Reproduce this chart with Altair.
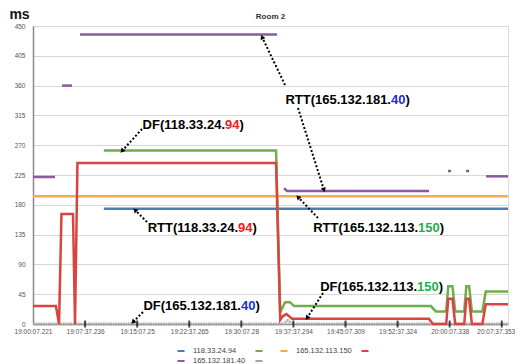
import json
import math
import altair as alt
import pandas as pd

# ---------------- data ----------------
TITLE = "Room 2"
TICK_LABELS = ["19:00:07.221", "19:07:37.236", "19:15:07.25", "19:22:37.265", "19:30:07.28",
               "19:37:37.294", "19:45:07.309", "19:52:37.324", "20:00:07.338", "20:07:37.353"]
TICK_MIN = [0, 7.5, 15, 22.5, 30, 37.5, 45, 52.5, 60, 67.5]
X_MAX = 68.4
Y_TICKS = [0, 45, 90, 135, 180, 225, 270, 315, 360, 405, 450]

SERIES = ["118.33.24.94", "DF 118.33.24.94", "165.132.113.150",
          "DF 165.132.113.150", "165.132.181.40", "DF 165.132.181.40"]
COLORS = ["#4a7ebb", "#6fae4c", "#f5ab4b", "#d9443f", "#8b5aa0", "#a6a6a6"]

# RTT 118.33.24.94 (blue)
blue_t = [10.2, 68.4]
blue_v = [174, 174]
# DF 118.33.24.94 (green)
green_t = [10.2, 35.0, 35.6, 36.3, 37.0, 37.6, 57.3, 58.0, 59.5, 59.8, 60.4, 60.8,
           62.1, 62.4, 62.8, 63.2, 64.7, 65.2, 68.4]
green_v = [262, 262, 18, 33, 33, 27, 27, 19, 19, 57, 57, 19,
           19, 57, 57, 19, 19, 49, 49]
# RTT 165.132.113.150 (orange)
orange_t = [0, 68.4]
orange_v = [193, 193]
# DF 165.132.113.150 (red)
red_t = [0, 3.3, 3.75, 4.1, 5.76, 6.05, 6.4, 35.0, 35.6, 36.0, 36.5, 37.3, 57.0, 57.6,
         59.5, 59.8, 60.4, 60.8, 62.1, 62.4, 62.8, 63.2, 64.7, 65.2, 68.4]
red_v = [27, 27, 0, 166, 166, 0, 243, 243, 6, 12, 15, 8, 8, 0,
         0, 38, 38, 0, 0, 38, 38, 0, 0, 30, 30]
# RTT 165.132.181.40 (purple) - separate pieces
purple_segs = [
    ([0, 3.17], [222, 222]),
    ([4.18, 5.62], [360, 360]),
    ([6.77, 35.14], [437, 437]),
    ([36.15, 36.58, 57.03], [205, 201, 201]),
    ([59.76, 60.2], [231, 231]),
    ([62.36, 62.8], [231, 231]),
    ([65.24, 68.4], [223, 223]),
]
# DF 165.132.181.40 (gray)
gray_t = [0, 36.0, 36.7, 37.4, 68.4]
gray_v = [0, 0, 5, 0, 0]

# annotations: prefix, coloured part, colour, x anchor (min), y (ms)
ANN_PREFIX = ["DF(118.33.24.", "RTT(118.33.24.", "RTT(165.132.181.",
              "RTT(165.132.113.", "DF(165.132.113.", "DF(165.132.181."]
ANN_COLORED = ["94", "94", "40", "150", "150", "40"]
ANN_COLOR = ["#ee2020", "#ee2020", "#2030e0", "#20b050", "#20b050", "#2030e0"]
ANN_X = [27.65, 29.52, 51.55, 55.44, 55.30, 29.95]
ANN_Y = [300.5, 145, 338, 145, 56, 27]

# arrows: from (x1,y1) to (x2,y2), head at end
ARR_X1 = [15.70, 16.42, 36.29, 38.16, 41.04, 41.76, 15.84]
ARR_Y1 = [294.5, 154.0, 360.9, 326.2, 160.0, 46.8, 18.1]
ARR_X2 = [12.82, 14.69, 32.98, 41.90, 38.16, 39.46, 14.40]
ARR_Y2 = [261.3, 172.1, 433.4, 202.4, 191.7, 9.1, 3.0]

W, H = 475, 298
PX_X = W / X_MAX
PX_Y = H / 450

# ---------------- frames ----------------
rows = []
def add(series, seg, ts, vs):
    for t, v in zip(ts, vs):
        rows.append({"series": series, "seg": seg, "t": t, "v": v})

add(SERIES[0], "b", blue_t, blue_v)
add(SERIES[1], "g", green_t, green_v)
add(SERIES[2], "o", orange_t, orange_v)
add(SERIES[3], "r", red_t, red_v)
for i, (ts, vs) in enumerate(purple_segs):
    add(SERIES[4], f"p{i}", ts, vs)
lines_df = pd.DataFrame(rows)
gray_df = pd.DataFrame({"series": SERIES[5], "seg": "gr", "t": gray_t, "v": gray_v})

ann_df = pd.DataFrame({"prefix": ANN_PREFIX, "col": ANN_COLORED, "c": ANN_COLOR,
                       "t": ANN_X, "v": ANN_Y,
                       "n": [len(s) for s in ANN_COLORED]})
angles = []
for x1, y1, x2, y2 in zip(ARR_X1, ARR_Y1, ARR_X2, ARR_Y2):
    dx = (x2 - x1) * PX_X
    dy = -(y2 - y1) * PX_Y
    angles.append(math.degrees(math.atan2(dx, -dy)) % 360)
arr_df = pd.DataFrame({"t": ARR_X1, "v": ARR_Y1, "t2": ARR_X2, "v2": ARR_Y2, "ang": angles})
ticks_df = pd.DataFrame({"t": TICK_MIN[1:], "v": [0] * (len(TICK_MIN) - 1)})
title_df = pd.DataFrame({"title": [TITLE]})

FONT = "Liberation Sans"
label_expr = json.dumps(TICK_LABELS) + "[round(datum.value / 7.5)]"

x_axis = alt.Axis(values=TICK_MIN, labelExpr=label_expr, title=None, grid=False,
                  ticks=False, labelFontSize=6.5, labelColor="#555", labelFont=FONT,
                  labelPadding=4, domainColor="#8a8a8a", domainWidth=1.5,
                  labelOverlap=False, labelFlush=False,
                  labelOffset=alt.expr("datum.value > 67 ? -6 : 0"))
y_axis = alt.Axis(values=Y_TICKS, tickCount=11, title="ms", titleAngle=0, titleX=-14,
                  titleY=-8, titleAlign="center", titleBaseline="alphabetic",
                  titleFontSize=14, titleFontWeight="bold", titleColor="#111",
                  titleFont=FONT, grid=True, gridColor="#d8d8d8", gridWidth=1,
                  ticks=False, labelFontSize=6.5, labelColor="#555", labelFont=FONT,
                  labelOverlap=False, labelFlush=False, labelPadding=8,
                  domainColor="#8a8a8a", domainWidth=1.5)
x_scale = alt.Scale(domain=[0, X_MAX], nice=False, zero=False)
y_scale = alt.Scale(domain=[0, 450], nice=False)


def X(field="t"):
    return alt.X(f"{field}:Q", scale=x_scale, axis=x_axis)


def Y(field="v"):
    return alt.Y(f"{field}:Q", scale=y_scale, axis=y_axis)


color_scale = alt.Scale(domain=SERIES, range=COLORS)
legend = alt.Legend(title=None, orient="none", legendX=143, legendY=320, columns=4,
                    direction="horizontal", symbolType="stroke", symbolSize=50,
                    symbolStrokeWidth=2, labelFontSize=7.5, labelColor="#444",
                    labelFont=FONT, labelOffset=7, columnPadding=5, rowPadding=1,
                    padding=0,
                    labelExpr="indexof(datum.label, 'DF') == 0 ? '' : datum.label")

gray = alt.Chart(gray_df).mark_line(strokeWidth=3, strokeDash=[1.5, 1]).encode(
    x=X(), y=Y(),
    color=alt.Color("series:N", scale=color_scale, legend=legend),
    detail="seg:N")

lines = alt.Chart(lines_df).mark_line(strokeWidth=2.5).encode(
    x=X(), y=Y(),
    color=alt.Color("series:N", scale=color_scale, legend=legend),
    detail="seg:N")

ticks = alt.Chart(ticks_df).mark_tick(orient="vertical", color="black", thickness=2,
                                      size=7).encode(x=X(), y=Y())

arrow_lines = alt.Chart(arr_df).mark_rule(color="black", strokeWidth=2,
                                          strokeDash=[2, 2]).encode(
    x=X(), y=Y(), x2="t2:Q", y2="v2:Q")
arrow_heads = alt.Chart(arr_df).mark_point(shape="triangle-up", filled=True, color="black",
                                           size=28, opacity=1).encode(
    x=X("t2"), y=Y("v2"), angle=alt.Angle("ang:Q", scale=None))

txt_kw = dict(font=FONT, fontSize=13, fontWeight="bold", baseline="middle")
t_prefix = alt.Chart(ann_df).mark_text(align="right", color="black", **txt_kw).encode(
    x=X(), y=Y(), text="prefix:N")
t_col = alt.Chart(ann_df).mark_text(align="left", **txt_kw).encode(
    x=X(), y=Y(), text="col:N", color=alt.Color("c:N", scale=None, legend=None))
t_close2 = alt.Chart(ann_df[ann_df.n == 2]).mark_text(
    align="left", color="black", dx=14.5, **txt_kw).encode(
    x=X(), y=Y(), text=alt.value(")"))
t_close3 = alt.Chart(ann_df[ann_df.n == 3]).mark_text(
    align="left", color="black", dx=21.7, **txt_kw).encode(
    x=X(), y=Y(), text=alt.value(")"))

title_mark = alt.Chart(title_df).mark_text(
    font=FONT, fontSize=8, fontWeight="bold", color="#333", align="center",
    baseline="middle").encode(text="title:N", x=alt.value(W / 2), y=alt.value(-9))

chart = alt.layer(gray, lines, ticks, arrow_lines, arrow_heads,
                  t_prefix, t_col, t_close2, t_close3, title_mark).properties(
    width=W, height=H,
    autosize=alt.AutoSizeParams(type="none"),
    padding={"left": 25, "top": 18, "right": 7, "bottom": 40},
).configure_view(stroke="#9a9a9a", strokeWidth=1.2).configure(background="white")

chart.save("out.html", embed_options={"renderer": "svg", "actions": False})
